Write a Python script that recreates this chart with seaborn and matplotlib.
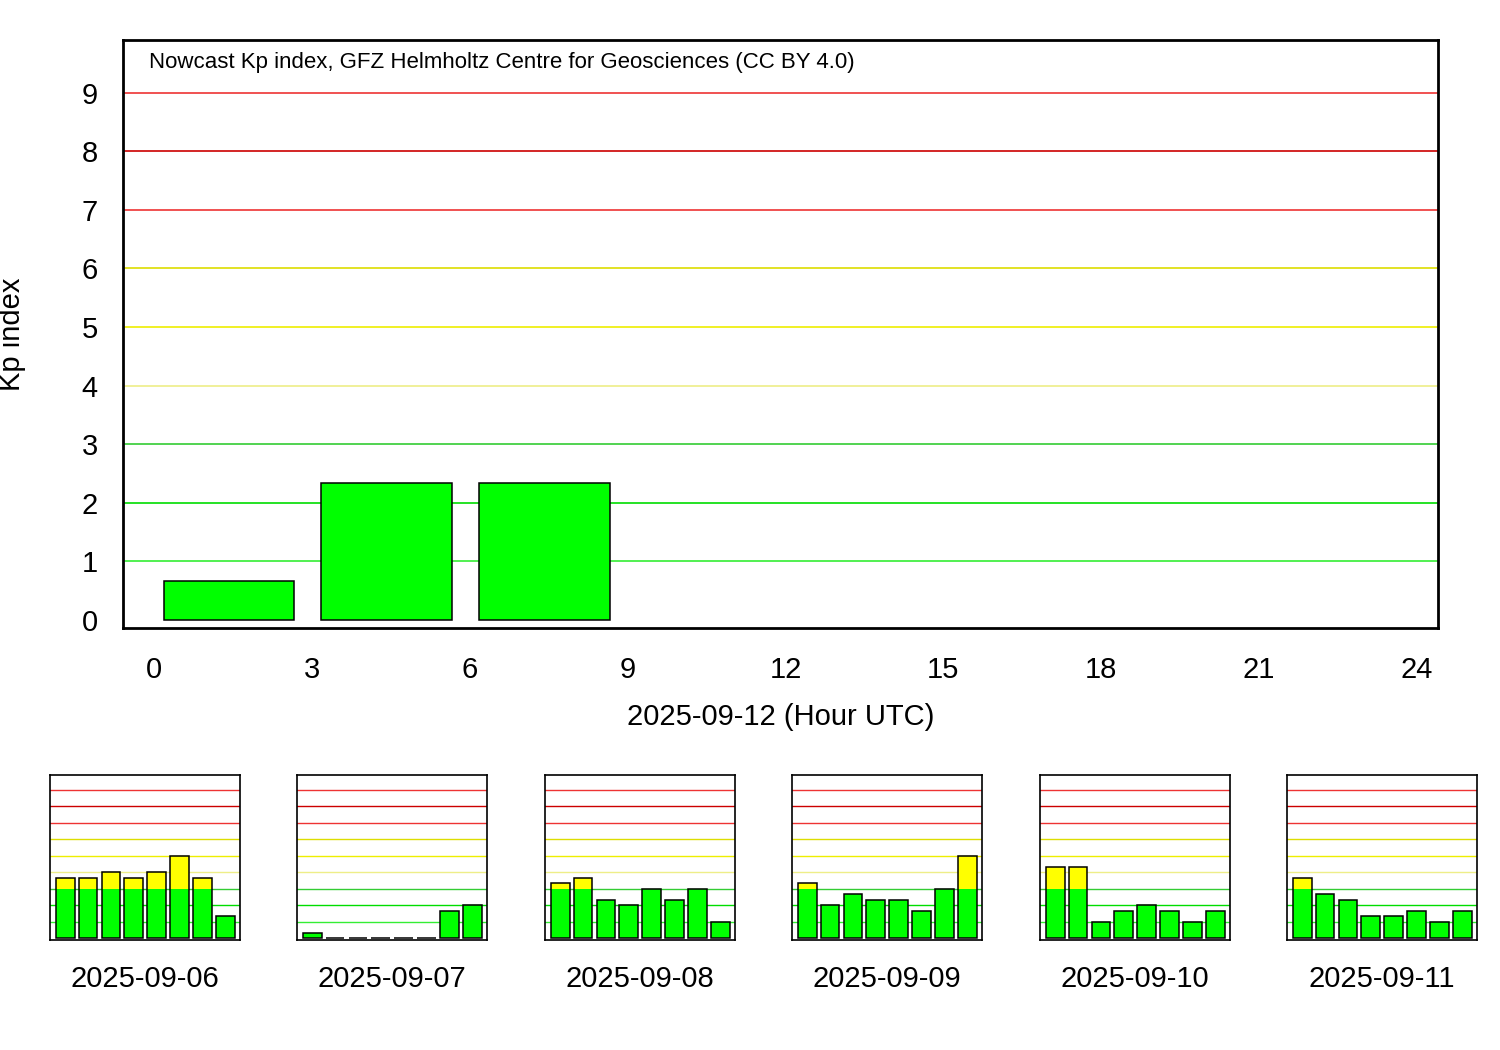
import numpy as np
import pandas as pd
import matplotlib
matplotlib.use("Agg")
import matplotlib.pyplot as plt
import seaborn as sbn

plt.rcParams.update({"font.family": "Liberation Sans", "font.size": 17})

# today's nowcast (3-hour intervals)
today = "2025-09-12"
hours = [1.42, 4.42, 7.42]
kp_today = [0.667, 2.333, 2.333]

# previous days, 8 values each
days = ["2025-09-06", "2025-09-07", "2025-09-08", "2025-09-09", "2025-09-10", "2025-09-11"]
kp_06 = [3.667, 3.667, 4.0, 3.667, 4.0, 5.0, 3.667, 1.333]
kp_07 = [0.333, 0.0, 0.0, 0.0, 0.0, 0.0, 1.667, 2.0]
kp_08 = [3.333, 3.667, 2.333, 2.0, 3.0, 2.333, 3.0, 1.0]
kp_09 = [3.333, 2.0, 2.667, 2.333, 2.333, 1.667, 3.0, 5.0]
kp_10 = [4.333, 4.333, 1.0, 1.667, 2.0, 1.667, 1.0, 1.667]
kp_11 = [3.667, 2.667, 2.333, 1.333, 1.333, 1.667, 1.0, 1.667]
day_values = [kp_06, kp_07, kp_08, kp_09, kp_10, kp_11]

grid_colors = {1: "#33ee33", 2: "#00dd00", 3: "#33cc33", 4: "#eeee88", 5: "#eeee00",
               6: "#dddd00", 7: "#ee3333", 8: "#cc0000", 9: "#ee3333"}
GREEN = "#00ff00"
YELLOW = "#ffff00"


def draw_bars(ax, x, vals, width, native):
    df = pd.DataFrame({"x": x, "full": vals, "low": np.minimum(vals, 3)})
    kw = dict(ax=ax, width=width, native_scale=native, errorbar=None, legend=False)
    sbn.barplot(data=df, x="x", y="full", color=YELLOW, saturation=1, edgecolor="none", linewidth=0, **kw)
    sbn.barplot(data=df, x="x", y="low", color=GREEN, saturation=1, edgecolor="none", linewidth=0, **kw)
    sbn.barplot(data=df, x="x", y="full", fill=False, edgecolor="black", linewidth=1.1, **kw)


def grid(ax, lw):
    for k, c in grid_colors.items():
        ax.axhline(k, color=c, lw=lw, zorder=0)


fig = plt.figure(figsize=(15, 10.5), dpi=100)

ax = fig.add_axes([123 / 1500, 1 - 628 / 1050, 1315 / 1500, 588 / 1050])
grid(ax, 1.2)
draw_bars(ax, hours, kp_today, 2.48 / 3, True)
ax.set_xlim(-0.59, 24.4)
ax.set_ylim(-0.14, 9.9)
ax.set_xticks(range(0, 25, 3))
ax.set_yticks(range(0, 10))
ax.tick_params(axis="x", labelsize=21, length=0, pad=20)
ax.tick_params(axis="y", labelsize=21, length=0, pad=18)
ax.set_xlabel(f"{today} (Hour UTC)", fontsize=21, labelpad=14)
ax.set_ylabel("Kp index", fontsize=21, labelpad=40)
for s in ax.spines.values():
    s.set_linewidth(2)
ax.text(0.02, 0.98, "Nowcast Kp index, GFZ Helmholtz Centre for Geosciences (CC BY 4.0)",
        transform=ax.transAxes, fontsize=16, va="top")

lefts = [50, 297, 545, 792, 1040, 1287]
for left, day, vals in zip(lefts, days, day_values):
    sa = fig.add_axes([left / 1500, 1 - 940 / 1050, 190 / 1500, 165 / 1050])
    grid(sa, 1.0)
    draw_bars(sa, list(range(8)), vals, 0.82, False)
    sa.set_xlim(-0.66, 7.63)
    sa.set_ylim(-0.12, 9.9)
    sa.set_xticks([])
    sa.set_yticks([])
    sa.set_xlabel(day, fontsize=21, labelpad=18)
    sa.set_ylabel("")
    for s in sa.spines.values():
        s.set_linewidth(1.2)

fig.savefig("out.png", dpi=100)
